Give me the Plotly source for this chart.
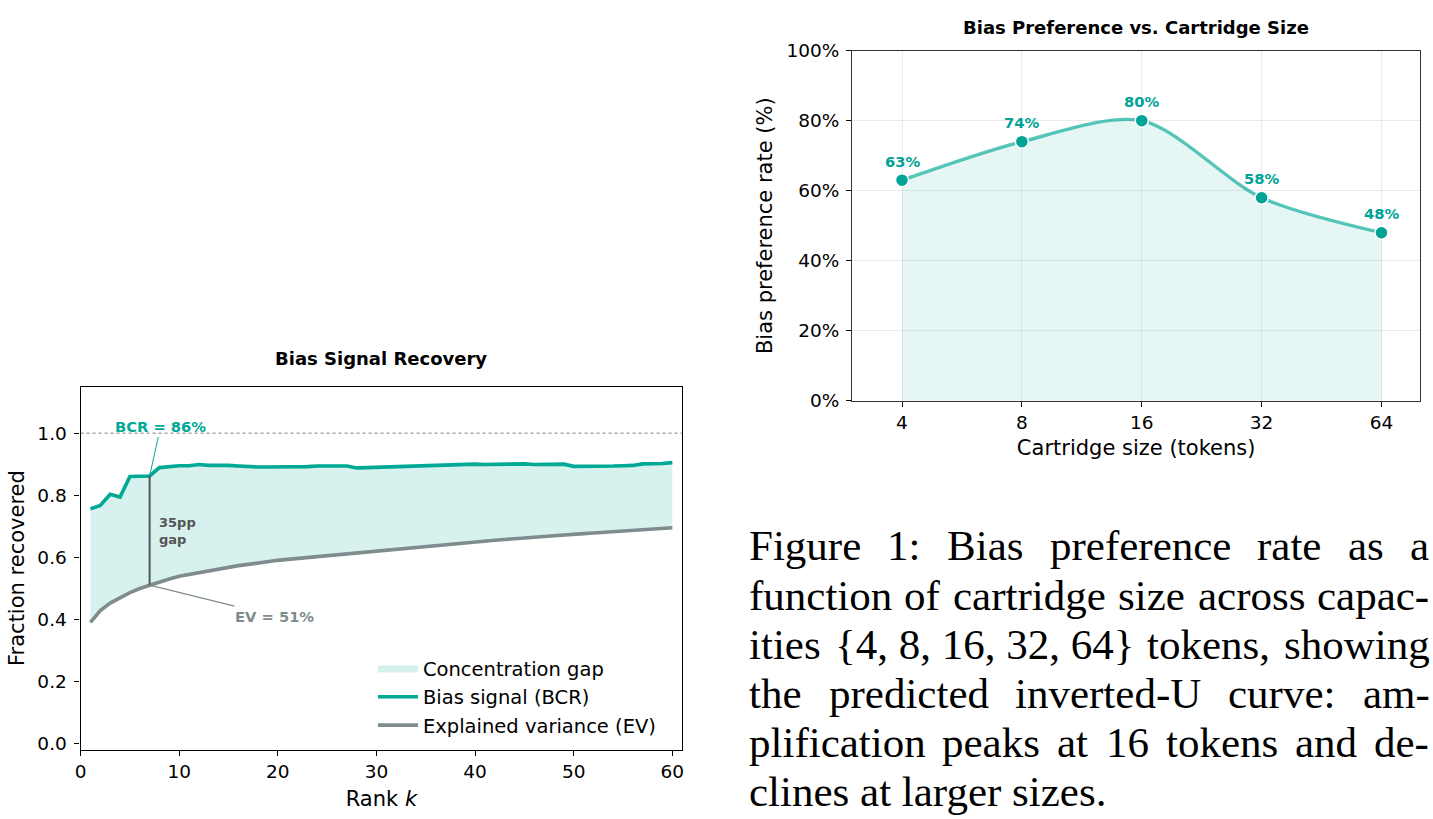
import math
import plotly.graph_objects as go

# ---------------- data ----------------
rank_k = list(range(1, 61))
bcr = [0.756, 0.767, 0.803, 0.794, 0.860, 0.861, 0.862, 0.889, 0.892, 0.895,
       0.895, 0.899, 0.896, 0.897, 0.896, 0.894, 0.892, 0.891, 0.891, 0.891,
       0.890, 0.890, 0.892, 0.894, 0.895, 0.894, 0.894, 0.888, 0.889, 0.890,
       0.893, 0.894, 0.894, 0.894, 0.895, 0.896, 0.897, 0.898, 0.899, 0.900,
       0.899, 0.900, 0.901, 0.901, 0.901, 0.899, 0.899, 0.900, 0.900, 0.893,
       0.893, 0.893, 0.892, 0.894, 0.895, 0.896, 0.901, 0.901, 0.902, 0.905]
ev = [0.390, 0.428, 0.452, 0.470, 0.486, 0.499, 0.510, 0.520, 0.530, 0.539,
      0.545, 0.551, 0.557, 0.563, 0.568, 0.573, 0.577, 0.582, 0.586, 0.590,
      0.593, 0.596, 0.599, 0.602, 0.605, 0.608, 0.611, 0.614, 0.617, 0.621,
      0.624, 0.627, 0.630, 0.633, 0.636, 0.639, 0.642, 0.645, 0.647, 0.650,
      0.652, 0.655, 0.657, 0.660, 0.662, 0.665, 0.667, 0.669, 0.672, 0.674,
      0.676, 0.678, 0.680, 0.682, 0.684, 0.686, 0.688, 0.690, 0.692, 0.695]
highlight_k = 7

cart_sizes = [4, 8, 16, 32, 64]
cart_labels = ["4", "8", "16", "32", "64"]
bias_pref = [0.63, 0.74, 0.80, 0.58, 0.48]

left_yticks = [0.0, 0.2, 0.4, 0.6, 0.8, 1.0]
left_xticks = [0, 10, 20, 30, 40, 50, 60]
right_yticks = [0.0, 0.2, 0.4, 0.6, 0.8, 1.0]

caption_lines = [
    ["Figure", "1:", "Bias", "preference", "rate", "as", "a"],
    ["function", "of", "cartridge", "size", "across", "capac-"],
    ["ities", "{4, 8, 16, 32, 64}", "tokens,", "showing"],
    ["the", "predicted", "inverted-U", "curve:", "am-"],
    ["plification", "peaks", "at", "16", "tokens", "and", "de-"],
    ["clines at larger sizes."],
]

# ---------------- style ----------------
W, H = 1433, 819
TEAL = "#00a896"
GREY = "#7f8c8d"
DARK = "#555555"
FONT = "DejaVu Sans"
TICK_SIZE = 18.5
LABEL_SIZE = 21
ANN_SIZE = 14.7

def px_x(p):
    return p / W

def px_y(p):
    return 1 - p / H

L_DOM_X = [px_x(75), px_x(680)]
L_DOM_Y = [px_y(758), px_y(385.5)]
R_DOM_X = [px_x(851), px_x(1422)]
R_DOM_Y = [px_y(400), px_y(40.7)]

fig = go.Figure()

# ---- left panel ----
fig.add_trace(go.Scatter(x=rank_k, y=ev, mode="lines", line=dict(width=0, color=GREY),
                         showlegend=False, hoverinfo="skip", xaxis="x", yaxis="y"))
fig.add_trace(go.Scatter(x=rank_k, y=bcr, mode="lines", fill="tonexty",
                         fillcolor="rgba(0,168,150,0.16)",
                         line=dict(width=0.8, color="rgba(0,168,150,0.20)"),
                         name="Concentration gap", legendgroup="a", legendrank=1,
                         xaxis="x", yaxis="y"))
fig.add_trace(go.Scatter(x=rank_k, y=bcr, mode="lines", line=dict(width=3.6, color=TEAL),
                         name="Bias signal (BCR)", legendgroup="b", legendrank=2,
                         xaxis="x", yaxis="y"))
fig.add_trace(go.Scatter(x=rank_k, y=ev, mode="lines", line=dict(width=3.6, color=GREY),
                         name="Explained variance (EV)", legendgroup="c", legendrank=3,
                         xaxis="x", yaxis="y"))
hi = rank_k.index(highlight_k)
fig.add_trace(go.Scatter(x=[rank_k[hi], rank_k[hi]], y=[ev[hi], bcr[hi]], mode="lines",
                         line=dict(width=2, color=DARK), showlegend=False,
                         hoverinfo="skip", xaxis="x", yaxis="y"))

# ---- right panel ----
fig.add_trace(go.Scatter(x=cart_sizes, y=bias_pref, mode="lines",
                         line=dict(width=3.4, color="rgba(0,168,150,0.65)", shape="spline", smoothing=0.85),
                         fill="tozeroy", fillcolor="rgba(0,168,150,0.10)",
                         showlegend=False, xaxis="x2", yaxis="y2"))
fig.add_trace(go.Scatter(x=cart_sizes, y=bias_pref, mode="markers",
                         marker=dict(size=13, color="#00a396", line=dict(width=1.5, color="white")),
                         showlegend=False, xaxis="x2", yaxis="y2"))

annotations = []
for xv, yv in zip(cart_sizes, bias_pref):
    annotations.append(dict(x=math.log10(xv), y=yv, xref="x2", yref="y2",
                            text=f"<b>{round(yv*100)}%</b>", xanchor="center", yanchor="middle",
                            showarrow=False, yshift=19,
                            font=dict(family=FONT, size=ANN_SIZE, color="#00a396")))

# left annotations
annotations.append(dict(x=rank_k[hi], y=bcr[hi], xref="x", yref="y", ax=8.1, ay=1.02,
                        axref="x", ayref="y", text=f"<b>BCR = {round(bcr[hi]*100)}%</b>",
                        showarrow=True, arrowhead=0, arrowwidth=1, arrowcolor=TEAL,
                        font=dict(family=FONT, size=ANN_SIZE, color=TEAL)))
annotations.append(dict(x=rank_k[hi], y=ev[hi], xref="x", yref="y", ax=19.7, ay=0.41,
                        axref="x", ayref="y", text=f"<b>EV = {round(ev[hi]*100)}%</b>",
                        showarrow=True, arrowhead=0, arrowwidth=1.2, arrowcolor=GREY,
                        font=dict(family=FONT, size=ANN_SIZE, color=GREY)))
annotations.append(dict(x=7.75, y=0.685, xref="x", yref="y", xanchor="left", yanchor="middle",
                        align="left",
                        text=f"<b>{round((bcr[hi]-ev[hi])*100)}pp<br>gap</b>", showarrow=False,
                        font=dict(family=FONT, size=13, color=DARK)))

# subplot titles
annotations.append(dict(x=px_x(377.5), y=px_y(357), xref="paper", yref="paper",
                        xanchor="center", yanchor="middle",
                        text="<b>Bias Signal Recovery</b>", showarrow=False,
                        font=dict(family=FONT, size=18, color="black")))
annotations.append(dict(x=px_x(1136.5), y=px_y(17), xref="paper", yref="paper",
                        xanchor="center", yanchor="middle",
                        text="<b>Bias Preference vs. Cartridge Size</b>", showarrow=False,
                        font=dict(family=FONT, size=18, color="black")))

# ---- caption (justified using Times/Liberation Serif metrics) ----
TW = {' ': 250, ',': 250, '-': 333, '.': 250, ':': 278, '{': 480, '}': 480,
      'F': 556, 'B': 667, 'U': 722,
      'a': 444, 'b': 500, 'c': 444, 'd': 500, 'e': 444, 'f': 333, 'g': 500, 'h': 500,
      'i': 278, 'j': 278, 'k': 500, 'l': 278, 'm': 778, 'n': 500, 'o': 500, 'p': 500,
      'q': 500, 'r': 333, 's': 389, 't': 278, 'u': 500, 'v': 500, 'w': 722, 'x': 500,
      'y': 500, 'z': 444}
CAP_SIZE = 43
CAP_LEFT, CAP_RIGHT = 746, 1430
CAP_TOP, CAP_STEP = 549, 50.5

def tw(s):
    return sum(TW.get(c, 500) for c in s) / 1000 * CAP_SIZE

for i, words in enumerate(caption_lines):
    yc = CAP_TOP + i * CAP_STEP
    if i == len(caption_lines) - 1 or len(words) == 1:
        annotations.append(dict(x=px_x(CAP_LEFT), y=px_y(yc), xref="paper", yref="paper",
                                xanchor="left", yanchor="middle", text=" ".join(words), showarrow=False,
                                borderpad=0, font=dict(family="Liberation Serif", size=CAP_SIZE, color="black")))
        continue
    total = sum(tw(w) for w in words)
    gap = (CAP_RIGHT - CAP_LEFT - total) / (len(words) - 1)
    xpos = CAP_LEFT
    for w in words:
        annotations.append(dict(x=px_x(xpos), y=px_y(yc), xref="paper", yref="paper",
                                xanchor="left", yanchor="middle", text=w, showarrow=False,
                                borderpad=0, font=dict(family="Liberation Serif", size=CAP_SIZE, color="black")))
        xpos += tw(w) + gap

shapes = [dict(type="line", xref="x domain", yref="y", x0=0, x1=1, y0=1.0, y1=1.0,
               line=dict(color="#444444", width=0.7, dash="dot"))]

axis_common = dict(showline=True, mirror=True, linewidth=1.2, ticks="outside", ticklen=5,
                   tickwidth=1, tickcolor="black", zeroline=False,
                   tickfont=dict(family=FONT, size=TICK_SIZE, color="black"))

fig.update_layout(
    width=W, height=H, margin=dict(l=0, r=0, t=0, b=0),
    paper_bgcolor="white", plot_bgcolor="white",
    font=dict(family=FONT, color="black"),
    xaxis=dict(domain=L_DOM_X, anchor="y", range=[0, 61], tickvals=left_xticks, showgrid=False,
               linecolor="black",
               title=dict(text="Rank <i>k</i>", font=dict(family=FONT, size=LABEL_SIZE), standoff=10),
               **axis_common),
    yaxis=dict(domain=L_DOM_Y, anchor="x", range=[-0.02, 1.15], tickvals=left_yticks,
               tickformat=".1f", showgrid=False, linecolor="black", ticklabelstandoff=4,
               title=dict(text="Fraction recovered", font=dict(family=FONT, size=LABEL_SIZE), standoff=6),
               **axis_common),
    xaxis2=dict(domain=R_DOM_X, anchor="y2", type="log", range=[0.4771, 1.9031],
                tickvals=cart_sizes, ticktext=cart_labels, showgrid=True,
                gridcolor="rgba(0,0,0,0.08)", linecolor="#333333",
                title=dict(text="Cartridge size (tokens)", font=dict(family=FONT, size=LABEL_SIZE), standoff=8),
                **axis_common),
    yaxis2=dict(domain=R_DOM_Y, anchor="x2", range=[0, 1.0], tickvals=right_yticks,
                tickformat=".0%", showgrid=True, gridcolor="rgba(0,0,0,0.08)", linecolor="#333333",
                ticklabelstandoff=3,
                title=dict(text="Bias preference rate (%)", font=dict(family=FONT, size=LABEL_SIZE), standoff=8),
                **axis_common),
    legend=dict(x=px_x(369), y=px_y(655), xanchor="left", yanchor="top",
                bgcolor="rgba(0,0,0,0)", font=dict(family=FONT, size=19.5, color="black"),
                traceorder="grouped", tracegroupgap=0, itemwidth=40),
    annotations=annotations, shapes=shapes,
)

fig.write_html("out.html")
